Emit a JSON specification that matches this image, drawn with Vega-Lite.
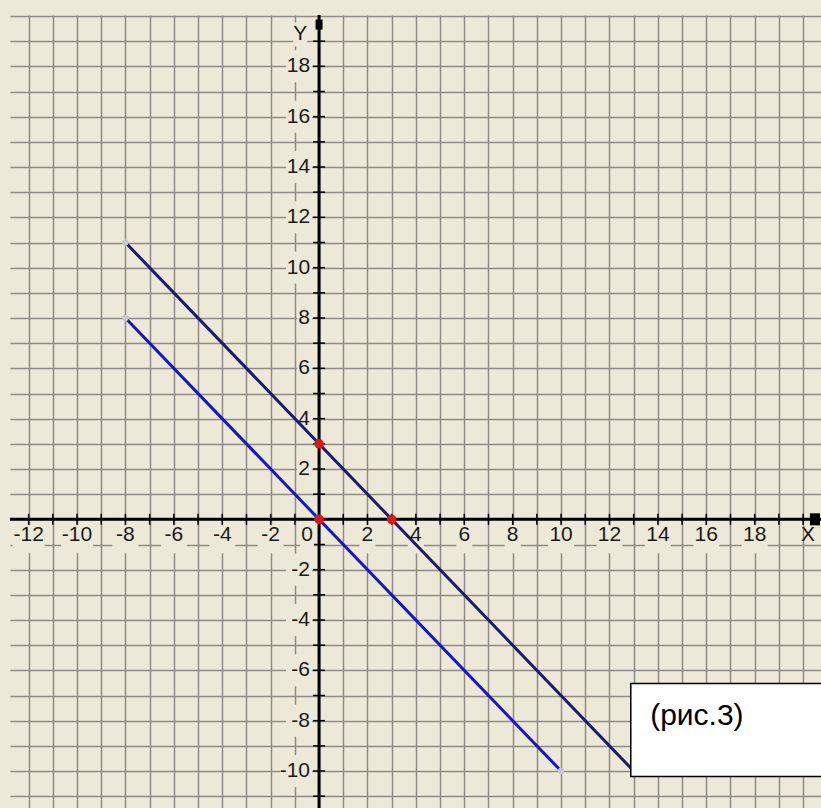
{
  "$schema": "https://vega.github.io/schema/vega-lite/v6.json",
  "width": 811,
  "height": 793,
  "autosize": "none",
  "padding": {"left": 10, "top": 15, "right": 0, "bottom": 0},
  "background": "#ECE9D8",
  "config": {"view": {"stroke": null}},
  "datasets": {
    "segs": [
      {"x": -8, "y": 11, "s": "a"},
      {"x": 13, "y": -10, "s": "a"},
      {"x": -8, "y": 8, "s": "b"},
      {"x": 10, "y": -10, "s": "b"}
    ]
  },
  "encoding": {
    "x": {
      "field": "x",
      "type": "quantitative",
      "scale": {"domain": [-12.77, 20.74], "nice": false, "zero": false},
      "axis": {
        "values": [-12,-11,-10,-9,-8,-7,-6,-5,-4,-3,-2,-1,0,1,2,3,4,5,6,7,8,9,10,11,12,13,14,15,16,17,18,19,20],
        "grid": true, "gridColor": "#8F8C84", "gridWidth": 1.5, "gridOpacity": 1,
        "labels": false, "ticks": false, "domain": false, "title": null
      }
    },
    "y": {
      "field": "y",
      "type": "quantitative",
      "scale": {"domain": [-11.47, 20.04], "nice": false, "zero": false},
      "axis": {
        "values": [-11,-10,-9,-8,-7,-6,-5,-4,-3,-2,-1,0,1,2,3,4,5,6,7,8,9,10,11,12,13,14,15,16,17,18,19,20],
        "grid": true, "gridColor": "#8F8C84", "gridWidth": 1.5, "gridOpacity": 1,
        "labels": false, "ticks": false, "domain": false, "title": null
      }
    }
  },
  "layer": [
    {
      "data": {"values": [{"x": -12.77, "x2": 20.74, "y": 0}]},
      "mark": {"type": "rule", "color": "black", "strokeWidth": 3},
      "encoding": {"x2": {"field": "x2"}}
    },
    {
      "data": {"values": [{"x": 0, "y": -11.47, "y2": 20.04}]},
      "mark": {"type": "rule", "color": "black", "strokeWidth": 3},
      "encoding": {"y2": {"field": "y2"}}
    },
    {
      "data": {"values": [{"x":-12,"y":0},{"x":-11,"y":0},{"x":-10,"y":0},{"x":-9,"y":0},{"x":-8,"y":0},{"x":-7,"y":0},{"x":-6,"y":0},{"x":-5,"y":0},{"x":-4,"y":0},{"x":-3,"y":0},{"x":-2,"y":0},{"x":-1,"y":0},{"x":1,"y":0},{"x":2,"y":0},{"x":3,"y":0},{"x":4,"y":0},{"x":5,"y":0},{"x":6,"y":0},{"x":7,"y":0},{"x":8,"y":0},{"x":9,"y":0},{"x":10,"y":0},{"x":11,"y":0},{"x":12,"y":0},{"x":13,"y":0},{"x":14,"y":0},{"x":15,"y":0},{"x":16,"y":0},{"x":17,"y":0},{"x":18,"y":0},{"x":19,"y":0},{"x":20,"y":0}]},
      "mark": {"type": "tick", "orient": "vertical", "size": 11, "thickness": 1.5, "color": "black", "opacity": 1}
    },
    {
      "data": {"values": [{"x":0,"y":-11},{"x":0,"y":-10},{"x":0,"y":-9},{"x":0,"y":-8},{"x":0,"y":-7},{"x":0,"y":-6},{"x":0,"y":-5},{"x":0,"y":-4},{"x":0,"y":-3},{"x":0,"y":-2},{"x":0,"y":-1},{"x":0,"y":1},{"x":0,"y":2},{"x":0,"y":3},{"x":0,"y":4},{"x":0,"y":5},{"x":0,"y":6},{"x":0,"y":7},{"x":0,"y":8},{"x":0,"y":9},{"x":0,"y":10},{"x":0,"y":11},{"x":0,"y":12},{"x":0,"y":13},{"x":0,"y":14},{"x":0,"y":15},{"x":0,"y":16},{"x":0,"y":17},{"x":0,"y":18},{"x":0,"y":19}]},
      "mark": {"type": "tick", "orient": "horizontal", "size": 12, "thickness": 1.5, "color": "black", "opacity": 1}
    },
    {
      "data": {"values": [{"x":-12,"y":0,"t":"-12"},{"x":-10,"y":0,"t":"-10"},{"x":-8,"y":0,"t":"-8"},{"x":-6,"y":0,"t":"-6"},{"x":-4,"y":0,"t":"-4"},{"x":-2,"y":0,"t":"-2"},{"x":2,"y":0,"t":"2"},{"x":4,"y":0,"t":"4"},{"x":6,"y":0,"t":"6"},{"x":8,"y":0,"t":"8"},{"x":10,"y":0,"t":"10"},{"x":12,"y":0,"t":"12"},{"x":14,"y":0,"t":"14"},{"x":16,"y":0,"t":"16"},{"x":18,"y":0,"t":"18"}]},
      "layer": [
        {
          "mark": {"type": "point", "filled": true, "color": "#ECE9D8", "opacity": 1, "strokeWidth": 0, "yOffset": 20},
          "encoding": {
            "shape": {"condition": [
              {"test": "datum.x <= -10", "value": "M-1,-0.875H1V0.875H-1Z"},
              {"test": "datum.x < 0 || datum.x >= 10", "value": "M-1,-1.0769H1V1.0769H-1Z"}
            ], "value": "M-1,-1.75H1V1.75H-1Z"},
            "size": {"condition": [
              {"test": "datum.x <= -10", "value": 1024},
              {"test": "datum.x < 0 || datum.x >= 10", "value": 676}
            ], "value": 256}
          }
        },
        {
          "mark": {"type": "text", "font": "Liberation Sans", "fontSize": 21, "dy": 16, "align": "center", "baseline": "middle", "color": "#1a1a1a"},
          "encoding": {"text": {"field": "t"}}
        }
      ]
    },
    {
      "data": {"values": [{"x":0,"y":-10,"t":"-10"},{"x":0,"y":-8,"t":"-8"},{"x":0,"y":-6,"t":"-6"},{"x":0,"y":-4,"t":"-4"},{"x":0,"y":-2,"t":"-2"},{"x":0,"y":2,"t":"2"},{"x":0,"y":4,"t":"4"},{"x":0,"y":6,"t":"6"},{"x":0,"y":8,"t":"8"},{"x":0,"y":10,"t":"10"},{"x":0,"y":12,"t":"12"},{"x":0,"y":14,"t":"14"},{"x":0,"y":16,"t":"16"},{"x":0,"y":18,"t":"18"}]},
      "layer": [
        {
          "mark": {"type": "point", "filled": true, "color": "#ECE9D8", "opacity": 1, "strokeWidth": 0, "xOffset": -7},
          "encoding": {
            "shape": {"condition": [
              {"test": "datum.y <= -10", "value": "M-2,-1H0V1H-2Z"},
              {"test": "datum.y < 0 || datum.y >= 10", "value": "M-2,-1.2308H0V1.2308H-2Z"}
            ], "value": "M-2,-2.1333H0V2.1333H-2Z"},
            "size": {"condition": [
              {"test": "datum.y <= -10", "value": 1024},
              {"test": "datum.y < 0 || datum.y >= 10", "value": 676}
            ], "value": 225}
          }
        },
        {
          "mark": {"type": "text", "font": "Liberation Sans", "fontSize": 21, "dx": -9, "align": "right", "baseline": "middle", "color": "#1a1a1a"},
          "encoding": {"text": {"field": "t"}}
        }
      ]
    },
    {
      "data": {"values": [{"x": 0, "y": 0, "t": "0"}]},
      "layer": [
        {
          "mark": {"type": "point", "filled": true, "color": "#ECE9D8", "opacity": 1, "strokeWidth": 0, "xOffset": -5, "yOffset": 20, "shape": "M-2,-2H0V2H-2Z", "size": 196}
        },
        {
          "mark": {"type": "text", "font": "Liberation Sans", "fontSize": 21, "dx": -6, "dy": 16, "align": "right", "baseline": "middle", "color": "#1a1a1a"},
          "encoding": {"text": {"field": "t"}}
        }
      ]
    },
    {
      "data": {"values": [{"x": -0.78, "y": 19.27, "t": "Y"}]},
      "layer": [
        {
          "mark": {"type": "point", "filled": true, "color": "#ECE9D8", "opacity": 1, "strokeWidth": 0, "shape": "M-1,-1.7H1V1.7H-1Z", "size": 196}
        },
        {
          "mark": {"type": "text", "font": "Liberation Sans", "fontSize": 21, "align": "center", "baseline": "middle", "color": "#1a1a1a"},
          "encoding": {"text": {"field": "t"}}
        }
      ]
    },
    {
      "data": {"values": [{"x": 20.2, "y": 0, "t": "X"}]},
      "mark": {"type": "text", "font": "Liberation Sans", "fontSize": 21, "dy": 16, "align": "center", "baseline": "middle", "color": "#1a1a1a"},
      "encoding": {"text": {"field": "t"}}
    },
    {
      "data": {"name": "segs"},
      "mark": {"type": "line", "strokeWidth": 3},
      "encoding": {
        "color": {"field": "s", "type": "nominal", "scale": {"domain": ["a", "b"], "range": ["#1A1A6E", "#1616C8"]}, "legend": null}
      }
    },
    {
      "data": {"name": "segs"},
      "mark": {"type": "point", "filled": true, "color": "#C8C8C8", "opacity": 1, "size": 40}
    },
    {
      "data": {"values": [{"x": 0, "y": 3}, {"x": 0, "y": 0}, {"x": 3, "y": 0}]},
      "mark": {"type": "point", "filled": true, "color": "#E01515", "opacity": 1, "size": 90}
    },
    {
      "data": {"values": [{"x": 0, "y": 19.66}]},
      "mark": {"type": "point", "filled": true, "color": "black", "opacity": 1, "shape": "M-0.7,-1H0.7V1H-0.7Z", "size": 100}
    },
    {
      "data": {"values": [{"x": 20.49, "y": 0}]},
      "mark": {"type": "point", "filled": true, "color": "black", "opacity": 1, "shape": "M-1,-1.2H1V1.2H-1Z", "size": 100}
    },
    {
      "data": {"values": [{"x": 12.88, "x2": 21.2, "y": -6.52, "y2": -10.22}]},
      "mark": {"type": "rect", "fill": "white", "stroke": "black", "strokeWidth": 1.5, "clip": true},
      "encoding": {"x2": {"field": "x2"}, "y2": {"field": "y2"}}
    },
    {
      "data": {"values": [{"x": 13.68, "y": -8.17, "t": "(рис.3)"}]},
      "mark": {"type": "text", "font": "Liberation Sans", "fontSize": 30, "align": "left", "baseline": "alphabetic", "color": "black"},
      "encoding": {"text": {"field": "t"}}
    }
  ]
}
